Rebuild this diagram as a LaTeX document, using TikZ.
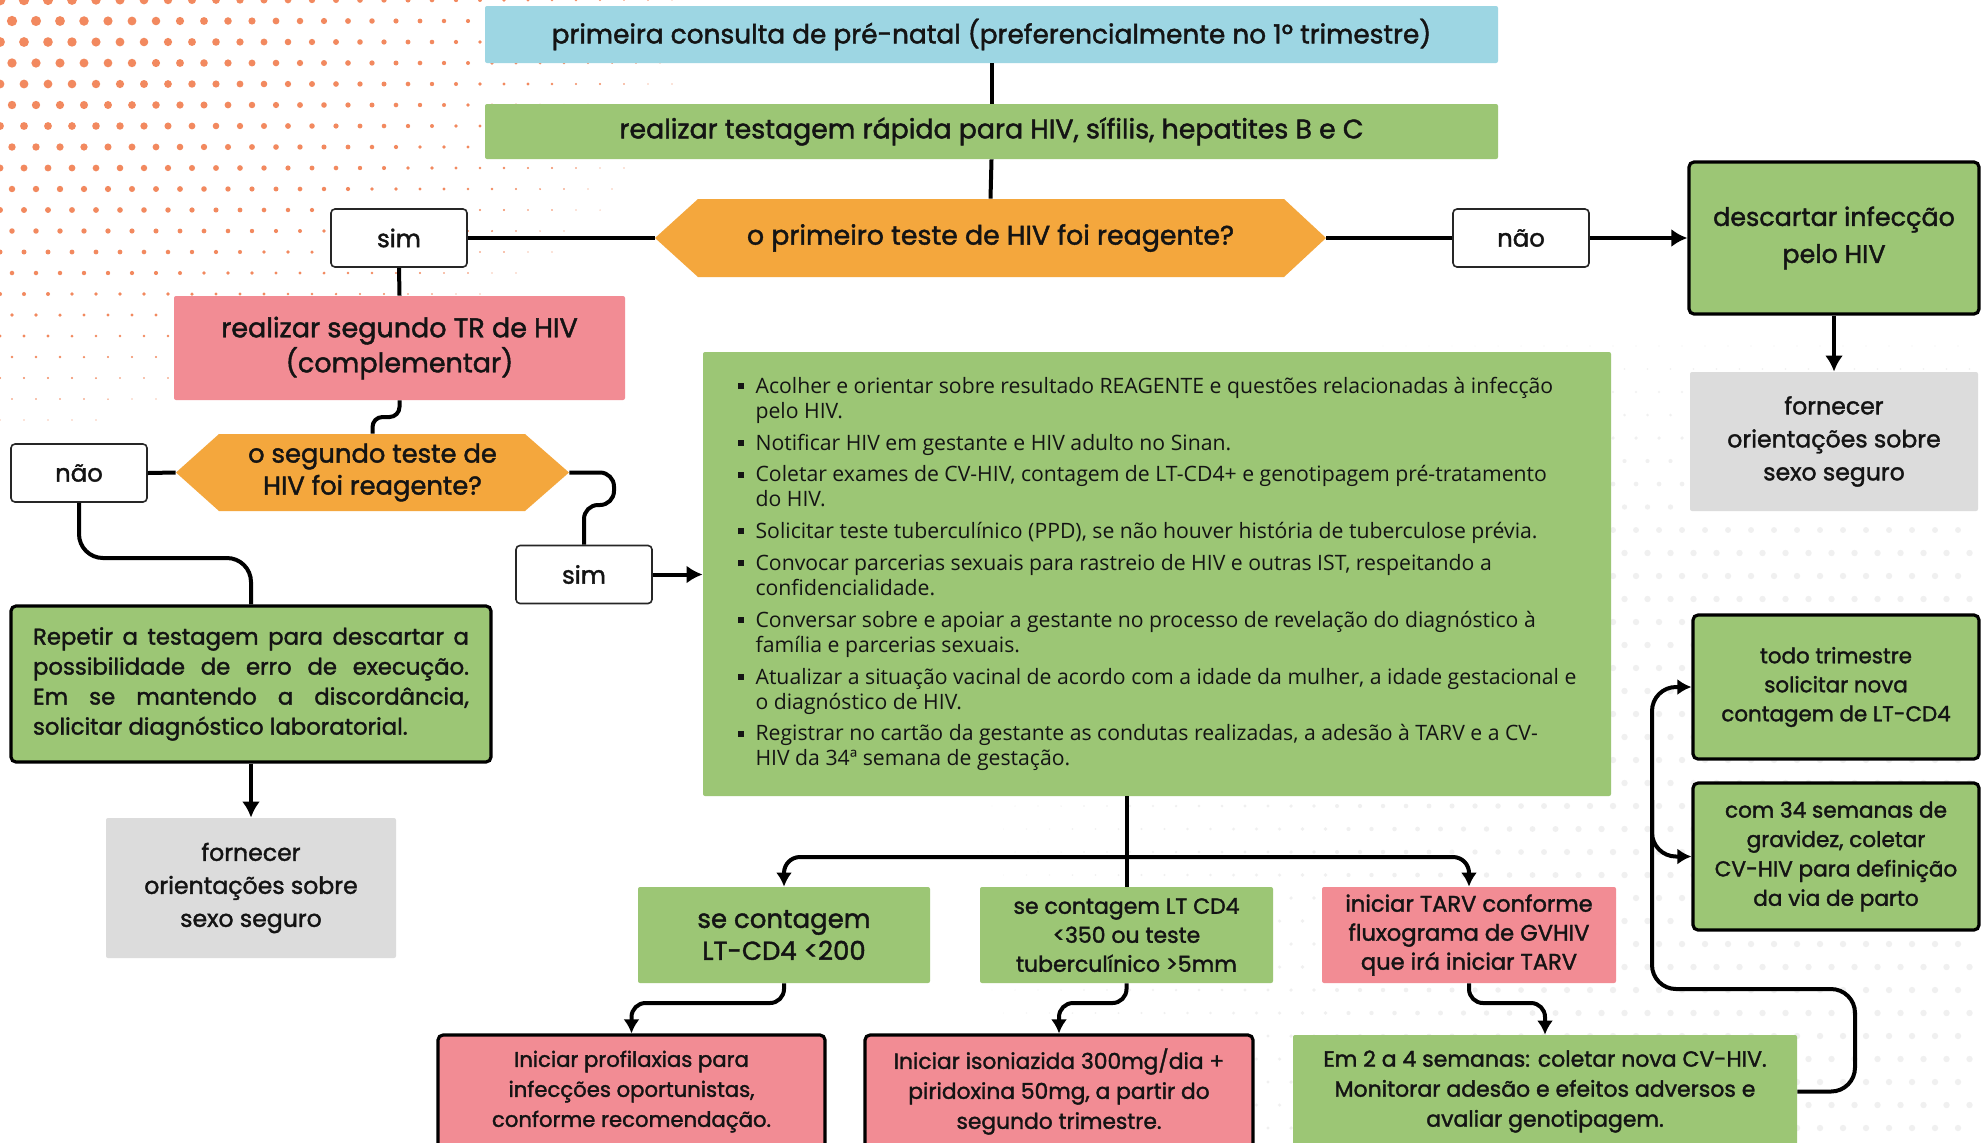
\documentclass[tikz,border=0pt]{standalone}
\usepackage{fontspec}
\setmainfont{Poppins}[RawFeature={embolden=1.6}]
\newfontfamily\bulletfont{Open Sans}
\usetikzlibrary{arrows.meta,calc}
\definecolor{cblue}{HTML}{9DD6E3}
\definecolor{cgreen}{HTML}{9CC675}
\definecolor{corange}{HTML}{F4A73D}
\definecolor{cpink}{HTML}{F28C94}
\definecolor{cgray}{HTML}{DCDCDC}
\definecolor{cdot}{HTML}{F2895F}
\definecolor{ctext}{HTML}{141414}
\newcommand\fsz[2]{\fontsize{#1}{#2}\selectfont}
\newcommand\itm{\makebox[9pt][l]{\rule[0.2em]{3pt}{3pt}}}
\newcommand\ind{\hspace*{9pt}}
\begin{document}
\begin{tikzpicture}[x=0.5pt,y=-0.5pt,
  box/.style={inner sep=0pt, align=center, text=ctext},
  flat/.style={box, rounded corners=1pt},
  thickbox/.style={box, draw=black, line width=1.6pt, rounded corners=2.5pt},
  lbl/.style={box, draw=black!85, line width=0.8pt, fill=white, rounded corners=2pt,
     minimum width=68pt, minimum height=29pt, font=\fsz{12.2}{14}},
  conn/.style={line width=2pt, draw=black},
  arr/.style={conn, -{Latex[length=8pt,width=9pt]}},
  sarr/.style={conn, -{Latex[length=7pt,width=8pt]}}
]
\useasboundingbox (0,0) rectangle (1984,1142);
\clip (0,0) rectangle (1984,1142);
\fill[white] (0,0) rectangle (1984,1142);
% decorative dots
\foreach \i in {0,...,32} {
  \foreach \j in {0,...,22} {
    \pgfmathsetmacro\xx{\i*24 + mod(\j,2)*12}
    \pgfmathsetmacro\yy{\j*21}
    \pgfmathsetmacro\dd{sqrt((\xx/760)^2+(\yy/470)^2)}
    \pgfmathsetmacro\rr{max(0,5.4*(1-\dd))}
    \ifdim\rr pt>0.5pt \fill[cdot] (\xx,\yy) circle[radius=\rr]; \fi
  }
}
\foreach \i in {0,...,46} {
  \foreach \j in {0,...,36} {
    \pgfmathsetmacro\xx{900+\i*23 + mod(\j,2)*11.5}
    \pgfmathsetmacro\yy{300+\j*23}
    \pgfmathsetmacro\rr{3.2*min(1,(\xx-900)/700)*min(1,(\yy-300)/250)}
    \ifdim\rr pt>0.4pt \fill[black!6] (\xx,\yy) circle[radius=\rr]; \fi
  }
}
% hexagons
\fill[corange] (655,238) -- (698,199) -- (1284,199) -- (1326,238) -- (1284,277) -- (698,277) -- cycle;
\fill[corange] (176,472.5) -- (219,434) -- (525,434) -- (569,472.5) -- (525,511) -- (219,511) -- cycle;

% nodes
\node[flat, fill=cblue, minimum width=506.5pt, minimum height=28.5pt, font=\fsz{13.2}{15}] (top) at (991.5,34.5)
  {primeira consulta de pré-natal (preferencialmente no 1º trimestre)};
\node[flat, fill=cgreen, minimum width=506.5pt, minimum height=27.5pt, font=\fsz{13.4}{15}] (test) at (991.5,131.5)
  {realizar testagem rápida para HIV, sífilis, hepatites B e C};
\node[box, minimum width=335.5pt, minimum height=39pt, font=\fsz{13.4}{15}] (hex1) at (990.5,238)
  {o primeiro teste de HIV foi reagente?};
\node[lbl] (sim1) at (399,238) {sim};
\node[lbl] (nao1) at (1521,238) {não};
\node[thickbox, fill=cgreen, minimum width=145pt, minimum height=76pt, font=\fsz{12.7}{18.5}] (desc) at (1834,238)
  {descartar infecção\\pelo HIV};
\node[flat, fill=cgray, minimum width=144pt, minimum height=69.5pt, font=\fsz{11.8}{16.5}] (fornR) at (1834,441.5)
  {fornecer\\orientações sobre\\sexo seguro};
\node[flat, fill=cpink, minimum width=225.5pt, minimum height=52pt, font=\fsz{13.5}{17.5}] (seg) at (399.5,348)
  {realizar segundo TR de HIV\\(complementar)};
\node[box, minimum width=196.5pt, minimum height=38.5pt, font=\fsz{12.9}{16}] (hex2) at (372.5,472.5)
  {o segundo teste de\\HIV foi reagente?};
\node[lbl] (nao2) at (79,473) {não};
\node[lbl] (sim2) at (584,574.5) {sim};
\node[thickbox, fill=cgreen, minimum width=240pt, minimum height=78pt] (rep) at (251,684)
  {\parbox{218pt}{\fsz{11.4}{15}\selectfont Repetir a testagem para descartar a\linebreak possibilidade de erro de execução.\linebreak Em se mantendo a discordância,\linebreak solicitar diagnóstico laboratorial.}};
\node[flat, fill=cgray, minimum width=145pt, minimum height=70pt, font=\fsz{11.8}{16.5}] (fornL) at (251,888)
  {fornecer\\orientações sobre\\sexo seguro};
\node[flat, fill=cgreen, minimum width=454pt, minimum height=222pt, align=left,
  font=\bulletfont\fsz{10.6}{12.5}] (big) at (1157,574) {%
\itm Acolher e orientar sobre resultado REAGENTE e questões relacionadas à infecção\\
\ind pelo HIV.\\[3.4pt]
\itm Notificar HIV em gestante e HIV adulto no Sinan.\\[3.4pt]
\itm Coletar exames de CV-HIV, contagem de LT-CD4+ e genotipagem pré-tratamento\\
\ind do HIV.\\[3.4pt]
\itm Solicitar teste tuberculínico (PPD), se não houver história de tuberculose prévia.\\[3.4pt]
\itm Convocar parcerias sexuais para rastreio de HIV e outras IST, respeitando a\\
\ind confidencialidade.\\[3.4pt]
\itm Conversar sobre e apoiar a gestante no processo de revelação do diagnóstico à\\
\ind família e parcerias sexuais.\\[3.4pt]
\itm Atualizar a situação vacinal de acordo com a idade da mulher, a idade gestacional e\\
\ind o diagnóstico de HIV.\\[3.4pt]
\itm Registrar no cartão da gestante as condutas realizadas, a adesão à TARV e a CV-\\
\ind HIV da 34ª semana de gestação.};
\node[flat, fill=cgreen, minimum width=146pt, minimum height=48pt, font=\fsz{13}{16}] (b1) at (784,935)
  {se contagem\\LT-CD4 <200};
\node[flat, fill=cgreen, minimum width=146.5pt, minimum height=48pt, font=\fsz{11}{14.5}] (b2) at (1126.5,935)
  {se contagem LT CD4\\<350 ou teste\\tuberculínico >5mm};
\node[flat, fill=cpink, minimum width=147pt, minimum height=48pt, font=\fsz{11.3}{14.5}] (b3) at (1469,935)
  {iniciar TARV conforme\\fluxograma de GVHIV\\que irá iniciar TARV};
\node[thickbox, fill=cpink, minimum width=193.5pt, minimum height=56.5pt, font=\fsz{10.6}{15}] (p1) at (631.5,1091.5)
  {Iniciar profilaxias para\\infecções oportunistas,\\conforme recomendação.};
\node[thickbox, fill=cpink, minimum width=194pt, minimum height=56.5pt, font=\fsz{10.9}{15}] (p2) at (1059,1091.5)
  {Iniciar isoniazida 300mg/dia +\\piridoxina 50mg, a partir do\\segundo trimestre.};
\node[flat, fill=cgreen, minimum width=252pt, minimum height=56.5pt, font=\fsz{11}{15}] (p3) at (1545,1091.5)
  {Em 2 a 4 semanas: coletar nova CV-HIV.\\Monitorar adesão e efeitos adversos e\\avaliar genotipagem.};
\node[thickbox, fill=cgreen, minimum width=143pt, minimum height=72pt, font=\fsz{10.7}{14.5}] (todo) at (1836,687)
  {todo trimestre\\solicitar nova\\contagem de LT-CD4};
\node[thickbox, fill=cgreen, minimum width=143pt, minimum height=73.5pt, font=\fsz{10.8}{14.7}] (c34) at (1836,856.5)
  {com 34 semanas de\\gravidez, coletar\\CV-HIV para definição\\da via de parto};
\coordinate (bj) at (1126.5,857);

% connectors
\draw[conn] (top.south) -- (test.north);
\draw[conn] (test.south) -- (hex1.north);
\draw[conn] (sim1.east) -- (hex1.west);
\draw[conn] (hex1.east) -- (nao1.west);
\draw[arr] (nao1.east) -- (desc.west);
\draw[arr] (desc.south) -- (fornR.north);
\draw[conn] (sim1.south) -- (seg.north);
\draw[conn, rounded corners=5pt] (seg.south) -- (399.5,417) -- (372.5,417) -- (hex2.north);
\draw[conn] (hex2.west) -- (nao2.east);
\draw[conn, rounded corners=12pt] (nao2.south) |- (251,558) -- (rep.north);
\draw[conn, rounded corners=7pt] (hex2.east) -- (614,472.5) -- (614,505) -- (584,505) -- (sim2.north);
\draw[arr] (sim2.east) -- (big.west |- sim2.east);
\draw[arr] (rep.south) -- (fornL.north);
\draw[conn] (b2.north |- big.south) -- (b2.north);
\draw[sarr, rounded corners=8pt] (bj) -| (b1.north);
\draw[sarr, rounded corners=8pt] (bj) -| (b3.north);
\draw[sarr, rounded corners=7pt] (b1.south) -- (784,1003) -- (631.5,1003) -- (p1.north);
\draw[sarr, rounded corners=7pt] (b2.south) -- (1126.5,1003) -- (1059,1003) -- (p2.north);
\draw[sarr, rounded corners=7pt] (b3.south) -- (1469,1003) -- (1545,1003) -- (p3.north);
\draw[sarr, rounded corners=12pt] (p3.east) -- (1855,1091.5) -- (1855,989) -- (1652,989) -- (1652,687) -- (todo.west);
\draw[sarr, rounded corners=12pt] (1652,800) |- (c34.west);
\end{tikzpicture}
\end{document}
